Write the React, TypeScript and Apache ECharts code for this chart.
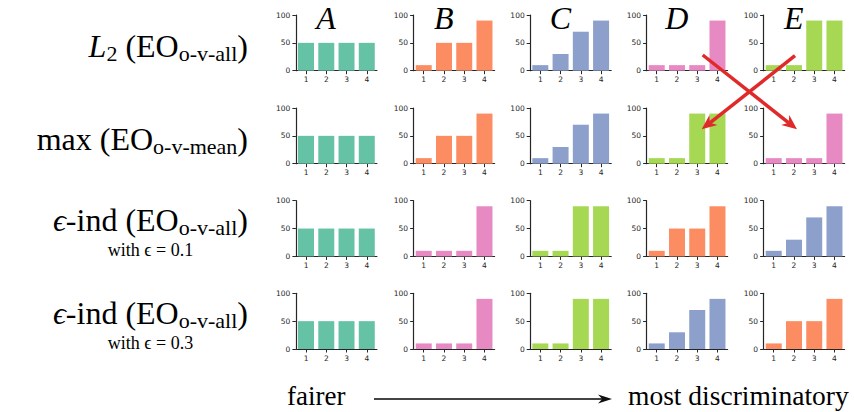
import React, { useEffect, useRef } from 'react';
import * as echarts from 'echarts';

// ---------- data ----------
const categories = ['1', '2', '3', '4'];
const uniform = [50, 50, 50, 50];
const steps = [10, 50, 50, 90];
const ramp = [10, 30, 70, 90];
const spike = [10, 10, 10, 90];
const pair = [10, 10, 90, 90];

const uniformColor = '#66c2a5';
const stepsColor = '#fc8d62';
const rampColor = '#8da0cb';
const spikeColor = '#e78ac3';
const pairColor = '#a6d854';

const columnLabels = ['A', 'B', 'C', 'D', 'E'];
const yTicks = [0, 50, 100];

const row1 = [uniform, steps, ramp, spike, pair];
const row2 = [uniform, steps, ramp, pair, spike];
const row3 = [uniform, spike, pair, steps, ramp];
const row4 = [uniform, spike, pair, ramp, steps];
const rows = [row1, row2, row3, row4];

type Frag = { t: string; sub?: boolean; italic?: boolean };
const rowLabel1: Frag[] = [{ t: 'L', italic: true }, { t: '2', sub: true }, { t: ' (EO' }, { t: 'o-v-all', sub: true }, { t: ')' }];
const rowLabel2: Frag[] = [{ t: 'max (EO' }, { t: 'o-v-mean', sub: true }, { t: ')' }];
const rowLabel3: Frag[] = [{ t: 'ϵ', italic: true }, { t: '-ind (EO' }, { t: 'o-v-all', sub: true }, { t: ')' }];
const rowLabel4: Frag[] = [{ t: 'ϵ', italic: true }, { t: '-ind (EO' }, { t: 'o-v-all', sub: true }, { t: ')' }];
const rowLabels = [rowLabel1, rowLabel2, rowLabel3, rowLabel4];
const rowNotes = ['', '', 'with ϵ = 0.1', 'with ϵ = 0.3'];
const leftCaption = 'fairer';
const rightCaption = 'most discriminatory';

// ---------- layout ----------
const AXIS_X = [295, 412.7, 529.3, 645.7, 762.7];
const ROW_TOP = [15, 108, 200.7, 293.3];
const PLOT_W = 81;
const PLOT_H = 55.7;
const LABEL_RIGHT = 248;
const ROW_BASE = [56.7, 150, 231, 324];
const NOTE_BASE = [0, 0, 256, 349];
const SERIF = '"Liberation Serif", "DejaVu Serif", serif';
const MAIN_FS = 32;
const SUB_FS = 22;
const SUB_SHIFT = 4;
const NOTE_FS = 18;
const HEAD_FS = 32;
const AXIS_COLOR = '#262626';

function colorOf(arr: number[]) {
  if (arr === uniform) return uniformColor;
  if (arr === steps) return stepsColor;
  if (arr === ramp) return rampColor;
  if (arr === spike) return spikeColor;
  return pairColor;
}

const centerY = (baseline: number, fs: number) => baseline - 0.3375 * fs;

function arrowHead(x1: number, y1: number, x2: number, y2: number, len: number, half: number) {
  const dx = x2 - x1, dy = y2 - y1;
  const L = Math.hypot(dx, dy);
  const ux = dx / L, uy = dy / L;
  const nx = -uy, ny = ux;
  const bx = x2 - ux * len, by = y2 - uy * len;
  const notchX = x2 - ux * len * 0.7, notchY = y2 - uy * len * 0.7;
  return {
    points: [[x2, y2], [bx + nx * half, by + ny * half], [notchX, notchY], [bx - nx * half, by - ny * half]],
    notch: [notchX, notchY],
  };
}

export default function App() {
  const ref = useRef<HTMLDivElement>(null);
  useEffect(() => {
    if (!ref.current) return;
    const chart = echarts.init(ref.current, undefined, { renderer: 'svg' });
    const ctx = document.createElement('canvas').getContext('2d')!;
    const fontOf = (f: Frag) => `${f.italic ? 'italic ' : ''}${f.sub ? SUB_FS : MAIN_FS}px ${SERIF}`;

    const grids: any[] = [];
    const xAxes: any[] = [];
    const yAxes: any[] = [];
    const series: any[] = [];
    rows.forEach((row, r) => {
      row.forEach((vals, c) => {
        const i = grids.length;
        grids.push({ left: AXIS_X[c] + 0.9, top: ROW_TOP[r], width: PLOT_W, height: PLOT_H });
        xAxes.push({
          type: 'category', gridIndex: i, data: categories,
          axisLine: { show: true, lineStyle: { color: AXIS_COLOR, width: 1.2 } },
          axisTick: { show: true, alignWithLabel: true, length: 3.5, lineStyle: { color: AXIS_COLOR, width: 1 } },
          axisLabel: { fontSize: 7.5, margin: 5, color: AXIS_COLOR, fontFamily: 'DejaVu Sans' },
          splitLine: { show: false },
        });
        yAxes.push({
          type: 'value', gridIndex: i, min: yTicks[0], max: yTicks[yTicks.length - 1], interval: yTicks[1] - yTicks[0],
          axisLine: { show: true, lineStyle: { color: AXIS_COLOR, width: 1.2 } },
          axisTick: { show: true, length: 3.5, lineStyle: { color: AXIS_COLOR, width: 1 } },
          axisLabel: { fontSize: 7.5, margin: 5.5, color: AXIS_COLOR, fontFamily: 'DejaVu Sans' },
          splitLine: { show: false },
        });
        series.push({
          type: 'bar', xAxisIndex: i, yAxisIndex: i, data: vals, barWidth: 16,
          itemStyle: { color: colorOf(vals) }, silent: true, z: 1,
        });
      });
    });

    const elements: any[] = [];
    // column headers
    columnLabels.forEach((lab, c) => {
      elements.push({
        type: 'text', x: AXIS_X[c] + 31, y: centerY(28.6, HEAD_FS), z: 50,
        style: { text: lab, fontSize: HEAD_FS, fontFamily: SERIF, fontStyle: 'italic', fill: '#000', align: 'center', verticalAlign: 'middle' },
      });
    });
    // row labels
    rowLabels.forEach((frags, r) => {
      const widths = frags.map((f) => { ctx.font = fontOf(f); return ctx.measureText(f.t).width; });
      const total = widths.reduce((a, b) => a + b, 0);
      let x = LABEL_RIGHT - total;
      frags.forEach((f, k) => {
        const fs = f.sub ? SUB_FS : MAIN_FS;
        const base = ROW_BASE[r] + (f.sub ? SUB_SHIFT : 0);
        elements.push({
          type: 'text', x, y: centerY(base, fs), z: 50,
          style: { text: f.t, fontSize: fs, fontFamily: SERIF, fontStyle: f.italic ? 'italic' : 'normal', fill: '#000', align: 'left', verticalAlign: 'middle' },
        });
        x += widths[k];
      });
      if (rowNotes[r]) {
        const center = LABEL_RIGHT - total / 2;
        elements.push({
          type: 'text', x: center, y: centerY(NOTE_BASE[r], NOTE_FS), z: 50,
          style: { text: rowNotes[r], fontSize: NOTE_FS, fontFamily: SERIF, fill: '#000', align: 'center', verticalAlign: 'middle' },
        });
      }
    });
    // bottom captions and arrow
    elements.push({
      type: 'text', x: 287, y: centerY(405.5, 27), z: 50,
      style: { text: leftCaption, fontSize: 27, fontFamily: SERIF, fill: '#000', align: 'left', verticalAlign: 'middle' },
    });
    elements.push({
      type: 'text', x: 628, y: centerY(405, 27.5), z: 50,
      style: { text: rightCaption, fontSize: 27.5, fontFamily: SERIF, fill: '#000', align: 'left', verticalAlign: 'middle' },
    });
    const bh = arrowHead(374, 399, 612, 399, 14, 4.5);
    elements.push({ type: 'line', z: 50, shape: { x1: 374, y1: 399, x2: bh.notch[0], y2: 399 }, style: { stroke: '#444', lineWidth: 1.8 } });
    elements.push({ type: 'polygon', z: 51, shape: { points: bh.points }, style: { fill: '#111' } });

    // red crossing arrows
    const reds = [[702.7, 55, 797, 129.3], [795, 55.7, 701.7, 129.3]];
    reds.forEach(([x1, y1, x2, y2]) => {
      const h = arrowHead(x1, y1, x2, y2, 15, 6.5);
      elements.push({ type: 'line', z: 100, shape: { x1, y1, x2: h.notch[0], y2: h.notch[1] }, style: { stroke: '#e02a2a', lineWidth: 3.5 } });
      elements.push({ type: 'polygon', z: 101, shape: { points: h.points }, style: { fill: '#e02a2a' } });
    });

    chart.setOption({
      animation: false,
      backgroundColor: '#ffffff',
      grid: grids,
      xAxis: xAxes,
      yAxis: yAxes,
      series,
      graphic: { elements },
    });
    return () => chart.dispose();
  }, []);
  return <div ref={ref} style={{ position: 'fixed', left: 0, top: 0, width: 854, height: 412 }} />;
}
